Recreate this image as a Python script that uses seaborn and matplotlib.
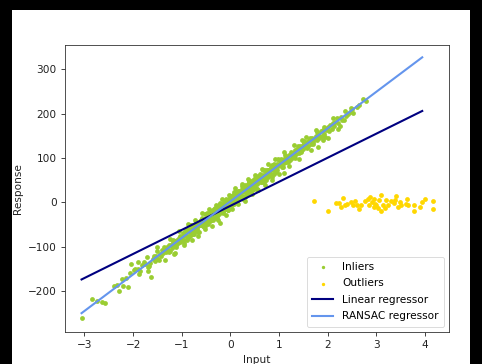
import matplotlib
matplotlib.use("Agg")
import matplotlib.pyplot as plt
import seaborn as sns
import pandas as pd
from matplotlib.patches import Rectangle

# ---- data ----
inlier_x = [
    -3.05, -2.84, -2.75, -2.64, -2.58, -2.4, -2.33, -2.3, -2.23, -2.2, -2.15, -2.1, -2.06, -2.05,
    -1.96, -1.9, -1.85, -1.82, -1.75, -1.72, -1.7, -1.65, -1.63, -1.6, -1.58, -1.55, -1.52, -1.5,
    -1.48, -1.45, -1.42, -1.4, -1.38, -1.35, -1.33, -1.3, -1.28, -1.26, -1.24, -1.22, -1.2, -1.18,
    -1.17, -1.16, -1.14, -1.12, -1.1, -1.08, -1.06, -1.04, -1.02, -1.0,
    -0.98, -0.96, -0.94, -0.92, -0.90, -0.88, -0.86, -0.84, -0.82, -0.80, -0.78, -0.76, -0.74,
    -0.72, -0.70, -0.68, -0.66, -0.64, -0.62, -0.60, -0.58, -0.56, -0.54, -0.52, -0.50, -0.48,
    -0.46, -0.44, -0.42, -0.40, -0.38, -0.36, -0.34, -0.32, -0.30, -0.28, -0.26, -0.24, -0.22,
    -0.20, -0.18, -0.16, -0.14, -0.12, -0.10, -0.08, -0.06, -0.04, -0.02, 0.00, 0.02, 0.04, 0.06,
    0.08, 0.10, 0.12, 0.14, 0.16, 0.18, 0.20, 0.22, 0.24, 0.26, 0.28, 0.30, 0.32, 0.34, 0.36,
    0.38, 0.40, 0.42, 0.44, 0.46, 0.48, 0.50, 0.52, 0.54, 0.56, 0.58, 0.60, 0.62, 0.64, 0.66,
    0.68, 0.70, 0.72, 0.74, 0.76, 0.78, 0.80, 0.82, 0.84, 0.86, 0.88, 0.90, 0.92, 0.94, 0.96, 0.98,
    -0.99, -0.97, -0.95, -0.93, -0.91, -0.89, -0.87, -0.85, -0.83, -0.81, -0.79, -0.77, -0.75,
    -0.73, -0.71, -0.69, -0.67, -0.65, -0.63, -0.61, -0.59, -0.57, -0.55, -0.53, -0.51, -0.49,
    -0.47, -0.45, -0.43, -0.41, -0.39, -0.37, -0.35, -0.33, -0.31, -0.29, -0.27, -0.25, -0.23,
    -0.21, -0.21, -0.19, -0.17, -0.15, -0.13, -0.11, -0.09, -0.07, -0.05, -0.03, -0.01, 0.01,
    0.03, 0.05, 0.07, 0.09, 0.11, 0.13, 0.15, 0.17, 0.19, 0.21, 0.23, 0.25, 0.27, 0.29, 0.31,
    0.33, 0.35, 0.37, 0.39, 0.41, 0.43, 0.45, 0.47, 0.49, 0.51, 0.53, 0.55, 0.57, 0.59, 0.61,
    0.63, 0.65, 0.67, 0.69, 0.71, 0.73, 0.75, 0.77, 0.79, 0.81, 0.83, 0.85, 0.87, 0.89, 0.91,
    0.93, 0.95, 0.97, 0.99,
    -0.60, -0.57, -0.54, -0.51, -0.48, -0.45, -0.42, -0.39, -0.36, -0.33, -0.30, -0.27, -0.24,
    -0.21, -0.18, -0.15, -0.12, -0.09, -0.06, -0.03, 0.00, 0.03, 0.06, 0.09, 0.12, 0.15, 0.18,
    0.21, 0.24, 0.27, 0.30, 0.33, 0.36, 0.39, 0.42, 0.45, 0.48, 0.51, 0.54, 0.57, 0.60,
    1.02, 1.04, 1.06, 1.08, 1.09, 1.1, 1.12, 1.14, 1.16, 1.18, 1.2, 1.22, 1.24, 1.26, 1.28, 1.3,
    1.32, 1.35, 1.37, 1.4, 1.42, 1.45, 1.46, 1.48, 1.5, 1.52, 1.55, 1.58, 1.6, 1.62, 1.65, 1.68,
    1.7, 1.72, 1.75, 1.78, 1.8, 1.8, 1.82, 1.85, 1.88, 1.9, 1.92, 1.95, 1.97, 2.0, 2.01, 2.05,
    2.08, 2.1, 2.12, 2.15, 2.2, 2.25, 2.28, 2.3, 2.35, 2.38, 2.42, 2.45, 2.5, 2.52, 2.6, 2.65,
    2.73, 2.78,
    -1.9, -1.7, -1.5, -1.35, -1.25, -1.15, -1.05, -0.95, -0.87, -0.8, -0.72, -0.66, -0.58, -0.52,
    -0.44, -0.38, -0.3, -0.25, -0.18, -0.1, -0.04, 0.03, 0.1, 0.16, 0.24, 0.3, 0.37, 0.44, 0.5,
    0.57, 0.64, 0.7, 0.78, 0.85, 0.92, 1.0, 1.1, 1.2, 1.3, 1.4, 1.55, 1.65, 1.75, 1.9, 2.1, 2.2,
    1.03, 1.07, 1.13, 1.19, 1.25, 1.33, 1.38, 1.44, 1.51, 1.57, 1.63, 1.7, 1.77, 1.84, 1.93, 2.03,
    2.18, 2.33, 2.48,
    -1.98, -1.88, -1.78, -1.68, -1.57, -1.46, -1.36, -1.27, -1.19, -1.11, -1.03,
]
inlier_y = [
    -262, -219, -222, -224, -226, -188, -186, -201, -174, -188, -170, -190, -160, -140,
    -151, -150, -155, -141, -140, -123, -146, -137, -168, -128, -125, -133, -120, -110,
    -127, -116, -122, -108, -115, -104, -112, -100, -108, -97, -110, -96, -103, -90,
    -117, -99, -88, -96, -85, -92, -80, -90, -78, -85,
    -75, -84, -65, -76, -86, -65, -68, -77, -51, -68, -55, -72, -56,
    -64, -44, -55, -68, -44, -52, -39, -46, -52, -38, -53, -26, -43,
    -34, -25, -43, -25, -26, -35, -15, -27, -36, -15, -19, -27, -1,
    -19, -5, -22, -7, -14, 5, -6, -18, 5, -3, 11, 3, -3, 12,
    -4, 24, 7, 15, 25, 7, 24, 24, 15, 34, 23, 13, 34, 31, 22,
    48, 31, 44, 27, 43, 35, 55, 44, 31, 55, 46, 60, 53, 46, 61,
    46, 73, 56, 65, 74, 56, 74, 73, 64, 84, 72, 63, 84, 80, 72, 97,
    -86, -69, -91, -73, -61, -75, -80, -61, -68, -52, -71, -58, -72,
    -48, -56, -60, -46, -68, -44, -51, -36, -54, -41, -26, -47, -39,
    -48, -30, -25, -36, -36, -20, -41, -23, -12, -25, -31, -12, -18,
    -3, -46, -22, -8, -23, 1, -6, -11, 4, -18, 5, -1, 14,
    -5, 9, 23, 2, 11, 1, 19, 25, 13, 13, 30, 8, 26, 38, 24,
    19, 38, 31, 47, 27, 41, 27, 50, 43, 39, 53, 31, 55, 48, 63,
    45, 58, 73, 52, 60, 51, 69, 74, 63, 62, 79, 58, 75, 87, 74,
    68, 87, 81, 96,
    -40, -48, -55, -35, -25, -42, -31, -40, -18, -27, -17, -35, -18,
    -5, -18, -8, -16, 8, -7, 6, -9, 5, 16, 3, 24, 12, 8,
    23, 37, 11, 32, 26, 41, 27, 36, 47, 29, 47, 41, 60, 50,
    86, 92, 80, 96, 65, 88, 100, 90, 102, 93, 106, 96, 110, 99, 112, 104,
    118, 108, 120, 112, 126, 116, 141, 130, 120, 134, 124, 136, 128, 140, 132, 146,
    135, 142, 150, 140, 154, 125, 146, 160, 150, 164, 155, 148, 162, 170, 145, 175,
    165, 180, 172, 182, 178, 171, 192, 185, 205, 195, 200, 204, 210, 201, 215, 220,
    232, 228,
    -135, -156, -100, -130, -83, -115, -65, -97, -48, -85, -39, -75, -25, -60,
    -15, -53, -5, -39, 8, -28, 17, -16, 32, -4, 42, 4, 53, 18, 62,
    28, 76, 40, 86, 50, 97, 64, 113, 83, 129, 98, 147, 118, 163, 140, 190, 166,
    97, 80, 107, 92, 114, 99, 126, 113, 139, 122, 144, 131, 158, 147, 170, 161,
    191, 185, 212,
    -153, -161, -134, -143, -121, -129, -100, -112, -84, -101, -75,
]
outlier_x = [
    1.72, 2.01, 2.17, 2.22, 2.31, 2.27, 2.36, 2.40, 2.47, 2.52, 2.55, 2.60, 2.64, 2.68,
    2.77, 2.82, 2.84, 2.87, 2.90, 2.94, 2.94, 2.97, 3.00, 3.04, 3.06, 3.09, 3.09, 3.14,
    3.17, 3.20, 3.23, 3.30, 3.35, 3.38, 3.41, 3.44, 3.48, 3.50, 3.60, 3.62, 3.64, 3.77,
    3.77, 3.90, 3.93, 4.00, 4.16, 4.16,
]
outlier_y = [
    3, -19, -1, -1, 9, -10, -6, -4, 0, -5, 2, -7, -16, -6,
    2, 7, -6, 13, 0, -10, 7, -4, -7, -13, 5, 16, -19, -5,
    -12, 5, -5, 3, -2, 5, 14, -10, 1, -5, -4, 7, -6, -19,
    -6, -11, 0, 7, 2, -16,
]
line_x = [-3.06, 3.94]
linear_y = [-174, 206]
ransac_y = [-250, 327]

# ---- figure ----
W, H = 482, 364
fig = plt.figure(figsize=(W / 100, H / 100), dpi=100, facecolor="black")
fig.patches.append(Rectangle((12 / W, 0), (470 - 12) / W, 1 - 10 / H,
                             transform=fig.transFigure, facecolor="white",
                             edgecolor="none", zorder=-10))
ax = fig.add_axes([65 / W, 1 - 332 / H, (449 - 65) / W, (332 - 45) / H])
ax.set_zorder(5)

fs = 7.6
sns.scatterplot(x=inlier_x, y=inlier_y, ax=ax, color="yellowgreen", marker="o",
                s=12, linewidth=0, label="Inliers")
sns.scatterplot(x=outlier_x, y=outlier_y, ax=ax, color="gold", marker="o",
                s=12, linewidth=0, label="Outliers")
sns.lineplot(x=line_x, y=linear_y, ax=ax, color="navy", linewidth=1.5,
             label="Linear regressor")
sns.lineplot(x=line_x, y=ransac_y, ax=ax, color="cornflowerblue", linewidth=1.5,
             label="RANSAC regressor")

ax.set_xlim(-3.40, 4.49)
ax.set_ylim(-292.5, 354.8)
ax.set_xticks([-3, -2, -1, 0, 1, 2, 3, 4])
ax.set_yticks([-200, -100, 0, 100, 200, 300])
ax.tick_params(labelsize=fs, length=2.6, width=0.6, colors="#222222")
for sp in ax.spines.values():
    sp.set_linewidth(0.6)
    sp.set_color("#333333")
ax.set_xlabel("Input", fontsize=fs, color="#222222", labelpad=3)
ax.set_ylabel("Response", fontsize=fs, color="#222222", labelpad=3)
leg = ax.legend(loc="lower right", fontsize=fs, markerscale=0.7, handlelength=2.0,
                borderpad=0.5, labelspacing=0.62)
leg.get_frame().set_linewidth(0.6)

fig.savefig("out.png", dpi=100, facecolor="black")
